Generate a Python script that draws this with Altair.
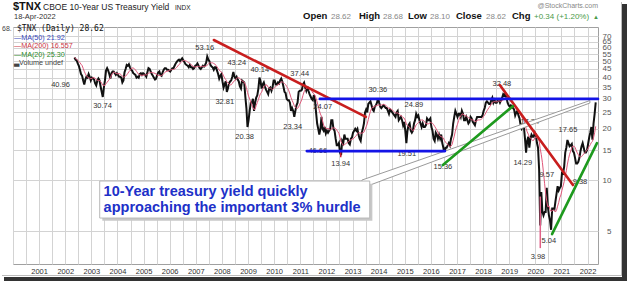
import altair as alt
import pandas as pd

FONT = "Liberation Sans"
MONO = "DejaVu Sans Mono"

# ---------------- price data: $TNX semi-monthly closes (yield x10) ----------------
p2002 = [52.5, 51.0, 50.5, 48.5, 47.0, 44.5, 42.0, 41.0, 38.5, 36.5, 39.0, 40.5, 40.0, 42.0, 40.5, 38.5]  # May..Dec
p2003 = [40.0, 39.5, 39.0, 37.0, 36.0, 38.5, 39.5, 38.5, 35.5, 33.0, 30.8, 35.0, 38.5, 44.0, 45.5, 44.0, 42.0, 39.5, 42.5, 43.5, 43.5, 42.5, 41.5, 42.5]
p2004 = [41.5, 40.5, 40.5, 40.0, 37.5, 38.5, 43.0, 45.0, 47.5, 47.0, 48.0, 46.0, 44.5, 44.0, 42.5, 42.0, 41.5, 40.0, 40.5, 40.0, 42.0, 42.5, 41.5, 42.5]
p2005 = [42.0, 41.5, 40.5, 43.0, 45.5, 45.0, 43.5, 42.0, 41.0, 40.0, 39.0, 39.5, 41.5, 43.0, 43.5, 41.5, 41.0, 43.0, 44.5, 45.5, 45.5, 44.5, 44.5, 44.0]
p2006 = [43.5, 44.5, 45.5, 45.5, 47.0, 48.5, 49.5, 50.5, 51.0, 50.0, 51.0, 52.0, 50.5, 49.5, 48.0, 47.5, 47.0, 46.0, 47.5, 46.0, 46.0, 45.0, 45.5, 47.0]
p2007 = [47.5, 48.5, 47.0, 45.5, 45.0, 46.0, 47.0, 46.5, 47.5, 49.0, 53.2, 51.0, 50.0, 47.5, 46.5, 46.0, 44.5, 46.0, 46.0, 44.0, 42.0, 39.5, 41.0, 42.0]
p2008 = [38.0, 35.0, 36.5, 38.0, 33.0, 34.5, 37.0, 38.0, 38.5, 40.5, 43.2, 40.5, 39.5, 40.5, 39.0, 38.0, 35.5, 34.5, 38.5, 38.0, 37.5, 31.0, 26.5, 20.5]
p2009 = [22.5, 25.5, 28.5, 28.5, 30.0, 25.5, 28.5, 30.5, 31.5, 34.5, 40.0, 38.0, 34.5, 36.5, 37.5, 35.5, 34.0, 33.0, 32.0, 34.5, 35.0, 33.5, 35.0, 38.5]
p2010 = [38.5, 36.5, 36.5, 37.5, 37.0, 38.5, 39.5, 38.0, 35.5, 33.0, 32.5, 30.0, 29.5, 29.5, 28.5, 25.5, 26.5, 25.5, 23.5, 25.5, 27.5, 28.5, 33.0, 33.5]
p2011 = [33.5, 34.0, 36.5, 37.4, 35.0, 33.5, 35.5, 33.5, 32.0, 31.0, 30.0, 29.5, 31.5, 29.5, 25.0, 21.5, 20.0, 18.5, 20.0, 23.5, 20.0, 19.5, 20.5, 18.8]
p2012 = [19.5, 19.0, 19.5, 20.0, 22.5, 22.5, 20.0, 19.5, 17.5, 16.0, 16.0, 16.5, 14.5, 14.0, 17.0, 16.5, 18.5, 17.5, 17.5, 17.5, 16.5, 16.2, 17.5, 17.8]
p2013 = [19.0, 19.5, 20.0, 19.5, 20.0, 18.5, 17.5, 17.0, 19.0, 20.0, 21.5, 25.0, 26.0, 25.0, 28.0, 28.5, 29.0, 27.5, 26.0, 25.5, 27.0, 27.5, 28.5, 30.3]
p2014 = [28.5, 27.0, 26.5, 27.0, 27.5, 27.0, 26.5, 26.5, 25.5, 24.5, 26.0, 25.5, 25.0, 24.5, 24.0, 23.5, 25.0, 25.5, 22.5, 23.0, 23.5, 22.5, 21.0, 22.0]
p2015 = [19.5, 16.5, 19.5, 21.0, 21.5, 19.5, 19.0, 19.5, 21.5, 22.5, 24.5, 23.5, 24.0, 22.5, 21.5, 20.5, 21.5, 20.5, 20.5, 21.0, 23.0, 22.5, 22.5, 23.0]
p2016 = [20.5, 19.5, 17.5, 17.0, 19.0, 18.5, 17.5, 18.5, 17.5, 18.5, 16.5, 15.5, 14.0, 15.5, 15.5, 16.0, 16.5, 16.0, 17.5, 18.5, 21.5, 23.5, 25.5, 24.5]
p2017 = [23.5, 24.5, 24.5, 23.5, 25.5, 24.5, 22.5, 22.5, 23.5, 22.5, 21.5, 22.0, 23.5, 23.0, 22.0, 21.5, 21.0, 22.5, 23.5, 23.5, 23.5, 23.5, 23.5, 24.0]
p2018 = [25.5, 26.5, 28.5, 29.0, 28.5, 28.0, 28.0, 29.5, 30.5, 28.5, 29.5, 28.5, 28.5, 29.5, 29.5, 28.5, 29.5, 30.5, 32.0, 31.5, 32.4, 30.5, 28.5, 27.5]
p2019 = [27.0, 27.5, 27.0, 26.5, 26.0, 24.0, 25.0, 25.5, 24.0, 23.0, 21.0, 20.0, 20.5, 20.5, 17.5, 14.5, 17.0, 18.0, 15.5, 17.5, 18.5, 18.0, 18.0, 19.0]
p2020 = [18.5, 16.5, 15.5, 11.5, 5.4, 8.5, 6.5, 6.2, 6.5, 6.5, 9.0, 7.0, 6.2, 5.8, 5.1, 6.8, 6.8, 6.7, 7.5, 8.3, 9.2, 8.7, 9.0, 9.2]
p2021 = [11.0, 10.9, 12.0, 14.5, 15.5, 17.2, 16.5, 15.8, 16.0, 16.3, 14.8, 14.5, 13.5, 12.5, 12.5, 12.8, 13.5, 14.8, 15.8, 16.5, 15.5, 14.5, 14.5, 15.0]
p2022 = [16.3, 17.8, 19.0, 20.5, 17.3, 21.5, 24.5, 28.6]  # Jan..mid Apr

series_by_year = {2002: p2002, 2003: p2003, 2004: p2004, 2005: p2005, 2006: p2006,
                  2007: p2007, 2008: p2008, 2009: p2009, 2010: p2010, 2011: p2011,
                  2012: p2012, 2013: p2013, 2014: p2014, 2015: p2015, 2016: p2016,
                  2017: p2017, 2018: p2018, 2019: p2019, 2020: p2020, 2021: p2021,
                  2022: p2022}
first_half_month = {2002: 8}

# intraday spikes (date, low, high)
spike_t = [2012.55, 2020.19]
spike_lo = [13.6, 3.98]
spike_hi = [15.0, 8.0]
spike_kind = ["red", "pink"]

# value annotations
lab_text = ["40.96", "30.74", "53.16", "43.24", "32.81", "20.38", "40.14", "23.34", "37.44",
            "24.07", "46.66", "13.94", "30.36", "19.51", "24.89", "15.36", "32.48", "14.29",
            "17.74", "9.57", "3.98", "5.04", "17.65", "9.38"]
lab_t = [2001.82, 2003.43, 2007.34, 2008.57, 2008.11, 2008.87, 2009.45, 2010.71, 2010.98,
         2011.86, 2011.67, 2012.55, 2013.97, 2015.08, 2015.35, 2016.46, 2018.72, 2019.52,
         2019.79, 2020.44, 2020.10, 2020.52, 2021.25, 2021.71]
lab_v = [36.2, 27.2, 59.8, 48.8, 28.8, 17.9, 44.4, 20.5, 42.1,
         26.9, 14.8, 12.4, 33.8, 14.2, 27.6, 11.9, 36.7, 12.6,
         21.9, 10.7, 3.53, 4.38, 19.7, 9.73]

# trend lines
trend_kind = ["red", "red", "blue", "blue", "green", "green"]
trend_t1 = [2007.69, 2018.64, 2011.75, 2011.25, 2016.46, 2020.64]
trend_v1 = [66.6, 36.2, 30.0, 14.8, 12.25, 4.81]
trend_t2 = [2013.51, 2021.44, 2022.40, 2016.54, 2019.14, 2022.36]
trend_v2 = [23.5, 9.35, 30.0, 14.8, 27.2, 16.5]

# callout pointer (wedge) and box
wedge_t = [2013.36, 2022.09]
wedge_top = [10.0, 29.33]
wedge_bot = [8.97, 28.38]
box_t1, box_t2, box_vtop, box_vbot = [2003.32], [2013.66], [9.87], [5.98]
shadow_t1, shadow_t2, shadow_vtop, shadow_vbot = [2003.42], [2013.76], [9.52], [5.77]
note_lines = ["10-Year treasury yield quickly", "approaching the important 3% hurdle"]
note_t = [2003.47, 2003.47]
note_v = [8.50, 6.84]

grid_years = [2000 + 0.5 * i for i in range(45)]
y_ticks = [5, 10, 15, 20, 25, 30, 35, 40, 45, 50, 55, 60, 65, 70]

# ---------------- build tables ----------------
rows = []
for yr, vals in series_by_year.items():
    off = first_half_month.get(yr, 0)
    for i, v in enumerate(vals):
        rows.append({"t": yr + (off + i + 0.5) / 24.0, "v": v})
price = pd.DataFrame(rows)

spikes = pd.DataFrame({"t": spike_t, "v": spike_lo, "v2": spike_hi, "kind": spike_kind})
labels = pd.DataFrame({"txt": lab_text, "t": lab_t, "v": lab_v})
trends = pd.DataFrame({"kind": trend_kind, "t": trend_t1, "v": trend_v1, "t2": trend_t2, "v2": trend_v2})
wedge = pd.DataFrame({"t": wedge_t, "v": wedge_top, "v2": wedge_bot})
box = pd.DataFrame({"t": box_t1, "t2": box_t2, "v": box_vtop, "v2": box_vbot})
shadow = pd.DataFrame({"t": shadow_t1, "t2": shadow_t2, "v": shadow_vtop, "v2": shadow_vbot})
notes = pd.DataFrame({"txt": note_lines, "t": note_t, "v": note_v})
one = pd.DataFrame({"k": [0]})

XS = alt.Scale(domain=[2000.0, 2022.4], nice=False, zero=False)
YS = alt.Scale(type="log", domain=[3.21, 79.4], nice=False)

x_axis = alt.Axis(values=grid_years, grid=True, ticks=False, domain=False, title=None,
                  labelExpr="datum.value % 1 == 0 && datum.value >= 2001 ? format(datum.value, 'd') + '\u00a0\u00a0\u00a0' : ''",
                  labelFont=FONT, labelFontSize=7.5, labelColor="#333", labelPadding=3,
                  gridColor="#d3d3d3", gridWidth=1, labelOverlap=False, labelFlush=False)
y_axis = alt.Axis(values=y_ticks, orient="right", grid=True, ticks=False, domain=False, title=None,
                  labelFont=FONT, labelFontSize=8, labelColor="#555", labelAlign="right",
                  labelPadding=13, labelOverlap=False, gridColor="#d3d3d3", gridWidth=1,
                  labelFlush=False, format="d")

X = alt.X("t:Q", scale=XS, axis=x_axis)
Y = alt.Y("v:Q", scale=YS, axis=y_axis)

base = alt.Chart(price).mark_line(color="#111111", strokeWidth=2.0, clip=True).encode(x=X, y=Y)

ma = alt.Chart(price).transform_window(
    ma="mean(v)", frame=[-7, 0], sort=[alt.SortField("t")]
).transform_calculate(v="datum.ma").mark_line(color="#e0587a", strokeWidth=1, clip=True).encode(x=X, y=Y)


def spike_layer(kind, color):
    return alt.Chart(spikes).transform_filter(alt.datum.kind == kind).mark_rule(
        strokeWidth=1.5, color=color).encode(x=X, y=Y, y2="v2:Q")


label_layer = alt.Chart(labels).mark_text(font=FONT, fontSize=7.5, color="#333", align="center",
                                          baseline="middle").encode(x=X, y=Y, text="txt:N")

wedge_layer = alt.Chart(wedge).mark_area(fill="white", stroke="#9a9a9a", strokeWidth=1).encode(
    x=X, y=Y, y2="v2:Q")


def trend_layer(kind, color):
    return alt.Chart(trends).transform_filter(alt.datum.kind == kind).mark_rule(
        strokeWidth=2.6, strokeCap="round", color=color).encode(x=X, y=Y, x2="t2:Q", y2="v2:Q")


shadow_layer = alt.Chart(shadow).mark_rect(fill="#c8c8c8").encode(x=X, x2="t2:Q", y=Y, y2="v2:Q")
box_layer = alt.Chart(box).mark_rect(fill="white", stroke="#b8b8b8", strokeWidth=1).encode(
    x=X, x2="t2:Q", y=Y, y2="v2:Q")
note_layer = alt.Chart(notes).mark_text(font=FONT, fontSize=14.5, fontWeight="bold", color="#2030c8",
                                        align="left", baseline="middle").encode(x=X, y=Y, text="txt:N")

OX, OY = 13, 27


def ptext(txt, x, y, size=7.5, color="#333", weight="normal", align="left", font=FONT):
    return alt.Chart(one).mark_text(text=txt, font=font, fontSize=size, color=color, fontWeight=weight,
                                    align=align, baseline="middle").encode(
        x=alt.value(x - OX), y=alt.value(y - OY))


def prect(x1, x2, y1, y2, color):
    return alt.Chart(one).mark_rect(color=color).encode(
        x=alt.value(x1 - OX), x2=alt.value(x2 - OX), y=alt.value(y1 - OY), y2=alt.value(y2 - OY))


texts = [
    ptext("$TNX", 13, 6.5, 11, "#111", "bold"),
    ptext("CBOE 10-Year US Treasury Yield", 43, 7, 8.5, "#222"),
    ptext("INDX", 175, 7.5, 6.5, "#222"),
    ptext("18-Apr-2022", 14, 17, 7.5, "#333"),
    ptext("@StockCharts.com", 598, 6, 7, "#888", align="right"),
    ptext("Open", 303, 16, 9.5, "#111", "bold"),
    ptext("28.62", 331, 16.5, 8, "#888"),
    ptext("High", 359, 16, 9.5, "#111", "bold"),
    ptext("28.68", 383, 16.5, 8, "#888"),
    ptext("Low", 408, 16, 9.5, "#111", "bold"),
    ptext("28.10", 430, 16.5, 8, "#888"),
    ptext("Close", 456, 16, 9.5, "#111", "bold"),
    ptext("28.62", 486, 16.5, 8, "#888"),
    ptext("Chg", 512, 16, 9.5, "#111", "bold"),
    ptext("+0.34 (+1.20%)", 534, 16.5, 8, "#4a9a4a"),
    ptext("\u25B2", 593, 16.5, 6, "#4a9a4a"),
    ptext("68.", 2, 29, 7, "#444"),
    ptext("$TNX (Daily) 28.62", 17, 29, 8, "#111", font=MONO),
    ptext("\u2014MA(50) 21.92", 14, 38, 7.2, "#3344bb"),
    ptext("\u2014MA(200) 16.557", 14, 46, 7.2, "#cc3344"),
    ptext("\u2014MA(20) 25.30", 14, 54.5, 7.2, "#2a8a2a"),
    ptext("\u2583Volume undef", 14, 63, 7.2, "#444"),
]

frame = [
    prect(621, 622, 2, 276, "#bbbbbb"),
    prect(2, 622, 275, 276, "#bbbbbb"),
    prect(622, 627, 4, 281, "#333333"),
    prect(4, 627, 277, 281, "#333333"),
]

chart = alt.layer(
    base, ma, spike_layer("red", "#d02030"), spike_layer("pink", "#e06088"),
    label_layer, wedge_layer,
    trend_layer("red", "#c81e1e"), trend_layer("blue", "#1414e6"), trend_layer("green", "#1e9a1e"),
    shadow_layer, box_layer, note_layer, *texts, *frame
).properties(
    width=585, height=237,
    padding={"left": OX, "top": OY, "right": 30, "bottom": 17},
    autosize=alt.AutoSizeParams(type="none"),
    background="white",
).configure_view(stroke="#a0a0a0", strokeWidth=1)

chart.save("out.html", embed_options={"renderer": "svg", "actions": False})
